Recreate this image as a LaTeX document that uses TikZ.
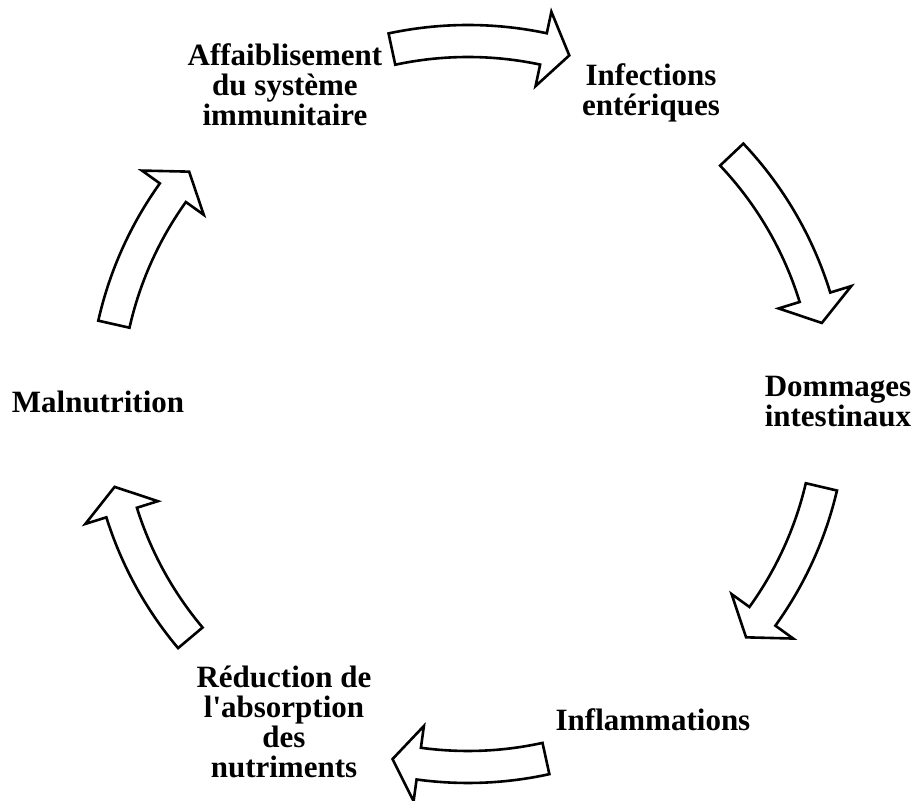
\documentclass[tikz,border=0pt]{standalone}
\usepackage{fontspec}
\setmainfont{Liberation Serif}
\begin{document}
\begin{tikzpicture}[x=1pt,y=1pt,
  lbl/.style={font=\fontsize{31}{30}\selectfont\bfseries, align=center, inner sep=0pt, anchor=north},
  cyc/.style={draw=black, fill=white, line width=2.6pt, line join=miter}]
\useasboundingbox (0,0) rectangle (914,801);
% center of the cycle (pixel 468,404) -> (468,397)
\coordinate (C) at (468,397);
\newcommand{\cycarrow}[3]{%
  \pgfmathsetmacro{\bang}{#2+4.2}%
  \draw[cyc, shift={(C)}] (#1:379pt) coordinate (#3t)
    arc[start angle=#1, end angle=\bang, radius=379pt]
    -- (\bang:401pt) -- (#2:363pt) coordinate (#3h) -- (\bang:325pt) -- (\bang:347pt)
    arc[start angle=\bang, end angle=#1, radius=347pt] -- cycle;}
\cycarrow{102.1}{73.8}{a1}
\cycarrow{43.4}{12.9}{a2}
\cycarrow{-13.2}{-40.0}{a3}
\cycarrow{-77.6}{-102.0}{a4}
\cycarrow{-139.9}{-166.8}{a5}
\cycarrow{167.3}{140.2}{a6}
% labels (top = first baseline - ~21.5)
\node[lbl] (aff) at (285,801-43.5) {Affaiblisement\\du système\\immunitaire};
\node[lbl] (inf) at (651,801-63.5) {Infections\\entériques};
\node[lbl] (dom) at (838,801-376) {Dommages\\intestinaux};
\node[lbl] (infl) at (653,801-708.5) {Inflammations};
\node[lbl] (red) at (284,801-666) {Réduction de\\l\textquotesingle absorption\\des\\nutriments};
\node[lbl] (mal) at (98,801-391) {Malnutrition};
\end{tikzpicture}
\end{document}
